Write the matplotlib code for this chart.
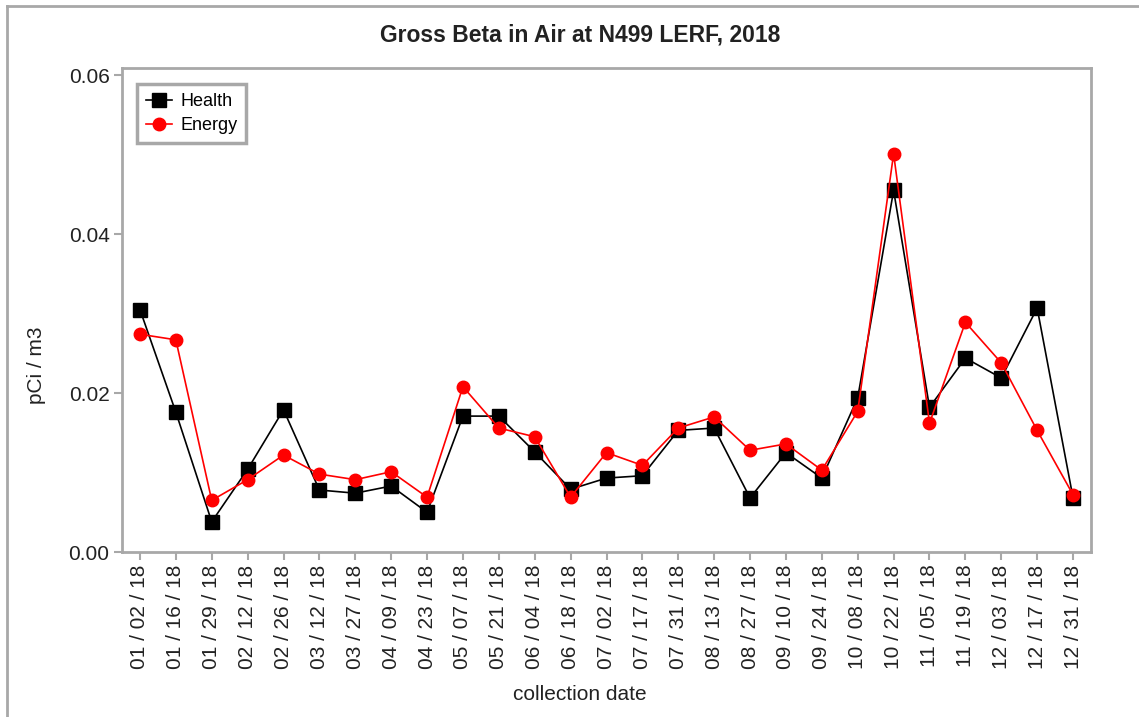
import numpy as np
import matplotlib
matplotlib.use("Agg")
import matplotlib.pyplot as plt
from matplotlib.lines import Line2D

plt.rcParams['font.family'] = ['Liberation Sans', 'DejaVu Sans']

dates = ['01 / 02 / 18', '01 / 16 / 18', '01 / 29 / 18', '02 / 12 / 18', '02 / 26 / 18',
         '03 / 12 / 18', '03 / 27 / 18', '04 / 09 / 18', '04 / 23 / 18', '05 / 07 / 18',
         '05 / 21 / 18', '06 / 04 / 18', '06 / 18 / 18', '07 / 02 / 18', '07 / 17 / 18',
         '07 / 31 / 18', '08 / 13 / 18', '08 / 27 / 18', '09 / 10 / 18', '09 / 24 / 18',
         '10 / 08 / 18', '10 / 22 / 18', '11 / 05 / 18', '11 / 19 / 18', '12 / 03 / 18',
         '12 / 17 / 18', '12 / 31 / 18']
health = [0.0305, 0.0176, 0.0038, 0.0104, 0.0179, 0.0078, 0.0074, 0.0083, 0.0050,
          0.0171, 0.0171, 0.0126, 0.0079, 0.0093, 0.0096, 0.0153, 0.0156, 0.0068,
          0.0125, 0.0093, 0.0194, 0.0455, 0.0182, 0.0244, 0.0219, 0.0307, 0.0068]
energy = [0.0274, 0.0267, 0.0065, 0.0091, 0.0122, 0.0098, 0.0091, 0.0101, 0.0069,
          0.0208, 0.0156, 0.0145, 0.0069, 0.0125, 0.0109, 0.0156, 0.0170, 0.0128,
          0.0136, 0.0103, 0.0177, 0.0501, 0.0162, 0.0289, 0.0238, 0.0153, 0.0072]

x = np.arange(len(dates))
grey = '#a8a8a8'
txt = '#222222'
W, H = 1139, 717

fig = plt.figure(figsize=(W/100, H/100), dpi=100)
ax = fig.add_axes([122/W, 1-552/H, (1091-122)/W, (552-68)/H])

ax.plot(x, health, color='black', lw=1.2, marker='s', ms=9.5, label='Health', zorder=3)
ax.plot(x, energy, color='red', lw=1.2, marker='o', ms=9, label='Energy', zorder=4)

ax.set_xlim(-0.5, len(dates) - 0.5)
ax.set_ylim(0, 0.0609)
ax.set_yticks([0, 0.02, 0.04, 0.06])
ax.set_yticklabels(['0.00', '0.02', '0.04', '0.06'])
ax.set_xticks(x)
ax.set_xticklabels(dates, rotation=90)

for s in ax.spines.values():
    s.set_color(grey)
    s.set_linewidth(2)
ax.tick_params(axis='both', colors=grey, labelcolor=txt, length=6, width=1.5,
               labelsize=15, pad=3)

fig.text(580/W, 1-35/H, 'Gross Beta in Air at N499 LERF, 2018', fontsize=16.5,
         fontweight='bold', color=txt, ha='center', va='center')
fig.text(36/W, 1-365/H, 'pCi / m3', fontsize=15, color=txt, rotation=90,
         ha='center', va='center')
fig.text(580/W, 1-694/H, 'collection date', fontsize=15, color=txt,
         ha='center', va='center')

leg = ax.legend(loc='upper left', bbox_to_anchor=(15/969, 1-16/484), borderaxespad=0,
                fancybox=False, edgecolor=grey, fontsize=13, handlelength=1.45,
                borderpad=0.5, labelspacing=0.4, handletextpad=0.45, framealpha=1)
leg.get_frame().set_linewidth(2.5)

# window border
fig.add_artist(Line2D([7/W, 7/W], [0, 1-6/H], color=grey, lw=2))
fig.add_artist(Line2D([7/W, 1], [1-6/H, 1-6/H], color=grey, lw=2))

fig.savefig('out.png', dpi=100)
